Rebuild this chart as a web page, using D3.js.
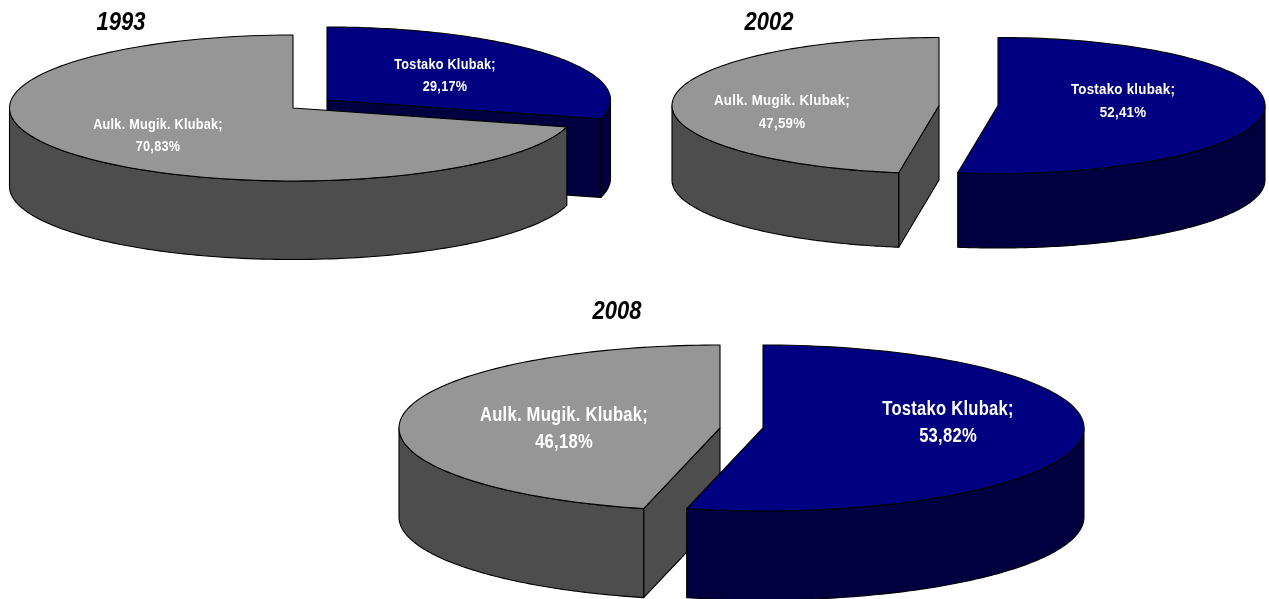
<!DOCTYPE html>
<html lang="en">
<head>
    <meta charset="UTF-8">
    <title>Klubak 1993-2008</title>
    <script src="https://d3js.org/d3.v7.min.js"></script>
    <style>
        html, body { margin: 0; padding: 0; background: #fff; }
        svg { display: block; filter: blur(0.35px); }
        .top, .wall { stroke: #000; stroke-width: 1.1px; stroke-linejoin: round; }
        .label { font-family: "Liberation Sans", sans-serif; font-weight: bold; fill: #fff; text-anchor: middle; letter-spacing: 0.3px; }
        .year { font-family: "Liberation Sans", sans-serif; font-weight: bold; font-style: italic; fill: #000; text-anchor: middle; }
    </style>
</head>
<body>
    <svg width="1269" height="599"></svg>

    <script>
        // values
        const years = ["1993", "2002", "2008"];
        const blueNames = ["Tostako Klubak", "Tostako klubak", "Tostako Klubak"];
        const grayNames = ["Aulk. Mugik. Klubak", "Aulk. Mugik. Klubak", "Aulk. Mugik. Klubak"];
        const blueValues = [29.17, 52.41, 53.82];
        const grayValues = [70.83, 47.59, 46.18];

        // where each pie sits on the page
        const layouts = [
            { rx: 283.5, ry: 73, depth: 78.5, blueFirst: true, size: 15, squeeze: 0.845,
              gray: [293, 108], blue: [327, 100], grayText: [158, 129], blueText: [445, 69], lineGap: 21.5, title: [121, 30], titleSize: 25 },
            { rx: 267, ry: 68, depth: 74.5, blueFirst: false, size: 15.5, squeeze: 0.86,
              gray: [939, 105.5], blue: [998, 105.5], grayText: [782, 105], blueText: [1123, 94], lineGap: 22.5, title: [769, 30], titleSize: 25 },
            { rx: 321, ry: 83, depth: 89, blueFirst: false, size: 20, squeeze: 0.83,
              gray: [720, 428], blue: [763, 428], grayText: [564, 421], blueText: [948, 415], lineGap: 27, title: [617, 319], titleSize: 25 }
        ];
        const titleSqueeze = 0.88;

        const colors = {
            blue: { top: "#000080", wall: "#000040" },
            gray: { top: "#969696", wall: "#4d4d4d" }
        };

        const svg = d3.select("svg");
        const comma = d3.formatLocale({ decimal: ",", thousands: ".", grouping: [3], currency: ["", ""] }).format(".2f");

        // d3.pie angles: 0 at 12 o'clock, going clockwise. Blue always starts at the top
        const pie = d3.pie().sort(null).value(d => d);

        function drawSlice(g, arc, center, l, color) {
            const x = d3.scaleLinear().domain([-1, 1]).range([center[0] - l.rx, center[0] + l.rx]);
            const y = d3.scaleLinear().domain([-1, 1]).range([center[1] - l.ry, center[1] + l.ry]);
            const line = d3.line().x(d => d[0]).y(d => d[1]);
            const rim = a => [x(Math.sin(a)), y(-Math.cos(a))];
            const apex = [x(0), y(0)];
            const steps = (a0, a1) => d3.range(0, 121).map(i => a0 + (a1 - a0) * i / 120);
            const curtain = pts => pts.concat(pts.slice().reverse().map(p => [p[0], p[1] + l.depth]));

            // cut faces that turn towards the viewer
            if (Math.sin(arc.startAngle) < 0) {
                g.append("path").attr("class", "wall").attr("fill", color.wall)
                    .attr("d", line(curtain([rim(arc.startAngle), apex])) + "Z");
            }
            if (Math.sin(arc.endAngle) > 0.001) {
                g.append("path").attr("class", "wall").attr("fill", color.wall)
                    .attr("d", line(curtain([apex, rim(arc.endAngle)])) + "Z");
            }

            // outer wall, front half of the ellipse only
            const a0 = Math.max(arc.startAngle, Math.PI / 2);
            const a1 = Math.min(arc.endAngle, Math.PI * 1.5);
            if (a1 > a0) {
                g.append("path").attr("class", "wall").attr("fill", color.wall)
                    .attr("d", line(curtain(steps(a0, a1).map(rim))) + "Z");
            }

            // top face
            const top = [apex].concat(steps(arc.startAngle, arc.endAngle).map(rim));
            g.append("path").attr("class", "top").attr("fill", color.top)
                .attr("d", line(top) + "Z");
        }

        function drawLabel(g, pos, name, value, l) {
            [name + ";", comma(value) + "%"].forEach((s, k) => {
                g.append("text").attr("class", "label")
                    .attr("font-size", l.size)
                    .attr("transform", `translate(${pos[0]},${pos[1] + k * l.lineGap}) scale(${l.squeeze},1)`)
                    .text(s);
            });
        }

        years.forEach((year, i) => {
            const l = layouts[i];
            const [blueArc, grayArc] = pie([blueValues[i], grayValues[i]]);
            const g = svg.append("g");

            const parts = [
                () => drawSlice(g, blueArc, l.blue, l, colors.blue),
                () => drawSlice(g, grayArc, l.gray, l, colors.gray)
            ];
            if (!l.blueFirst) parts.reverse();
            parts.forEach(f => f());

            drawLabel(g, l.grayText, grayNames[i], grayValues[i], l);
            drawLabel(g, l.blueText, blueNames[i], blueValues[i], l);

            g.append("text").attr("class", "year")
                .attr("font-size", l.titleSize)
                .attr("transform", `translate(${l.title[0]},${l.title[1]}) scale(${titleSqueeze},1)`)
                .text(year);
        });
    </script>
</body>
</html>
